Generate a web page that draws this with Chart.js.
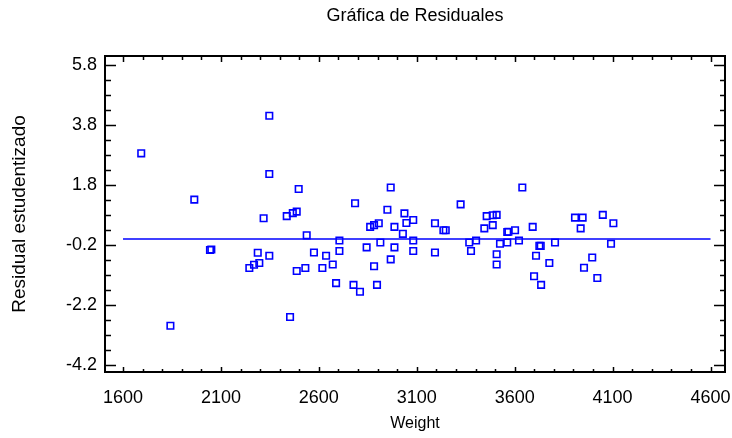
<!DOCTYPE html>
<html>
<head>
<meta charset="utf-8">
<script src="https://cdn.jsdelivr.net/npm/chart.js@4.4.0/dist/chart.umd.min.js"></script>
<style>
  html, body { margin: 0; padding: 0; background: #fff; }
</style>
</head>
<body>
<canvas id="residual-chart" width="732" height="438"></canvas>
<script>
// Weight (x) and studentized residual (y)
const weight = [
  2347, 1693, 2347, 2497, 1964, 2318, 2436, 2467, 2487, 2538,
  2044, 2051, 2288, 2347, 2245, 2269, 2296, 2487, 2531, 2453,
  1842, 2967, 2785, 2950, 3037, 3324, 3457, 3488, 3508, 3082,
  3047, 2862, 2882, 2906, 2986, 3029, 3193, 3236, 3248, 3488,
  3445, 3562, 2705, 2914, 3082, 3368, 3403, 3525, 3562, 2575,
  2705, 2637, 2844, 2986, 3082, 3193, 3377, 3508, 2618, 2671,
  2882, 2967, 3508, 2688, 2777, 2810, 2897, 3639, 3908, 3947,
  4050, 4104, 3937, 3692, 3568, 3602, 3622, 3726, 3733, 3806,
  4092, 3709, 3777, 3996, 3954, 3699, 3735, 4022
]
const residual = [
  4.10, 2.85, 2.16, 1.66, 1.31, 0.69, 0.76, 0.86, 0.91, 0.12,
  -0.37, -0.35, -0.46, -0.56, -0.97, -0.86, -0.80, -1.07, -0.97, -2.60,
  -2.89, 1.71, 1.19, 0.97, 0.85, 1.15, 0.76, 0.79, 0.80, 0.63,
  0.53, 0.40, 0.46, 0.52, 0.40, 0.17, 0.52, 0.29, 0.29, 0.46,
  0.35, 0.23, -0.05, -0.12, -0.05, -0.12, -0.05, -0.16, -0.12, -0.45,
  -0.40, -0.56, -0.28, -0.28, -0.40, -0.45, -0.40, -0.51, -0.97, -0.85,
  -0.91, -0.68, -0.85, -1.47, -1.53, -1.76, -1.53, 1.71, 0.71, 0.71,
  0.80, 0.52, 0.35, 0.40, 0.24, 0.29, -0.05, -0.23, -0.23, -0.12,
  -0.16, -0.56, -0.80, -0.62, -0.96, -1.24, -1.53, -1.30
]

// zero reference line
const zeroLineX = [1600, 4600]
const zeroLineY = [0, 0]

// tick labels
const xTickValues = [1600, 2100, 2600, 3100, 3600, 4100, 4600]
const yTickValues = [-4.2, -2.2, -0.2, 1.8, 3.8, 5.8]
const xMinorStep = 100
const yMinorStep = 0.5

const blue = '#0000ff'
const fontFamily = '"Liberation Sans", Arial, sans-serif'

// frame + inward tick marks on all four sides
const frameTicks = {
  id: 'frameTicks',
  afterDatasetsDraw(chart) {
    const { ctx, chartArea: a, scales: { x, y } } = chart
    ctx.save()
    ctx.strokeStyle = '#000'
    ctx.lineWidth = 1.5
    ctx.beginPath()
    const xFirst = xTickValues[0], xLast = xTickValues[xTickValues.length - 1]
    for (let i = 0; xFirst + i * xMinorStep <= xLast + 0.001; i++) {
      const v = xFirst + i * xMinorStep
      const px = Math.round(x.getPixelForValue(v)) + 0.5
      const major = xTickValues.includes(v)
      ctx.moveTo(px, a.bottom); ctx.lineTo(px, a.bottom - (major ? 5 : 3))
      ctx.moveTo(px, a.top); ctx.lineTo(px, a.top + (major ? 6 : 4))
    }
    const yFirst = yTickValues[0], yLast = yTickValues[yTickValues.length - 1]
    for (let i = 0; yFirst + i * yMinorStep <= yLast + 0.001; i++) {
      const v = yFirst + i * yMinorStep
      const py = Math.round(y.getPixelForValue(v)) + 0.5
      const major = i % 4 === 0
      ctx.moveTo(a.left, py); ctx.lineTo(a.left + (major ? 11 : 6), py)
      ctx.moveTo(a.right, py); ctx.lineTo(a.right - (major ? 11 : 5), py)
    }
    ctx.stroke()
    ctx.lineWidth = 2
    ctx.strokeRect(a.left, a.top, a.right - a.left, a.bottom - a.top)
    ctx.restore()
  }
}

const residualCanvas = document.getElementById('residual-chart')
const residualChart = new Chart(residualCanvas, {
  type: 'scatter',
  data: {
    datasets: [{
      label: 'Residuales',
      data: weight.map((w, i) => ({ x: w, y: residual[i] })),
      pointStyle: 'rect',
      pointRadius: 4.6,
      pointHoverRadius: 4.6,
      borderColor: blue,
      backgroundColor: 'rgba(0,0,0,0)',
      borderWidth: 1.6
    }, {
      label: 'Cero',
      data: zeroLineX.map((w, i) => ({ x: w, y: zeroLineY[i] })),
      showLine: true,
      pointRadius: 0,
      borderColor: blue,
      borderWidth: 1.5
    }]
  },
  options: {
    responsive: false,
    animation: false,
    devicePixelRatio: 1,
    layout: { padding: { left: 0, top: 0, right: 7, bottom: 0 } },
    scales: {
      x: {
        type: 'linear',
        position: 'bottom',
        min: 1508,
        max: 4674,
        afterBuildTicks: s => { s.ticks = xTickValues.map(v => ({ value: v })) },
        afterFit: s => { s.height = 66; s.paddingLeft = 0; s.paddingRight = 0 },
        grid: { display: false, drawTicks: false },
        border: { display: false },
        ticks: {
          padding: 15,
          color: '#000',
          maxRotation: 0,
          font: { family: fontFamily, size: 18 },
          callback: v => String(v)
        },
        title: {
          display: true,
          text: 'Weight',
          color: '#000',
          font: { family: fontFamily, size: 16 },
          padding: { top: 0, bottom: 5 }
        }
      },
      top: {
        type: 'linear',
        position: 'top',
        axis: 'x',
        display: true,
        min: 1508,
        max: 4674,
        afterFit: s => { s.height = 56; s.paddingLeft = 0; s.paddingRight = 0 },
        grid: { display: false, drawTicks: false },
        border: { display: false },
        ticks: { display: false },
        title: {
          display: true,
          text: 'Gráfica de Residuales',
          color: '#000',
          font: { family: fontFamily, size: 18 },
          padding: { top: 5, bottom: 0 }
        }
      },
      y: {
        type: 'linear',
        position: 'left',
        min: -4.43,
        max: 6.09,
        afterBuildTicks: s => { s.ticks = yTickValues.map(v => ({ value: v })) },
        afterFit: s => { s.width = 105; s.paddingTop = 0; s.paddingBottom = 0 },
        grid: { display: false, drawTicks: false },
        border: { display: false },
        ticks: {
          padding: 8,
          color: '#000',
          font: { family: fontFamily, size: 18 },
          callback: v => v.toFixed(1)
        },
        title: {
          display: true,
          text: 'Residual estudentizado',
          color: '#000',
          font: { family: fontFamily, size: 19 },
          padding: { top: 8, bottom: 0 }
        }
      }
    },
    plugins: {
      legend: { display: false },
      title: { display: false },
      tooltip: { enabled: false }
    }
  },
  plugins: [frameTicks]
})
</script>
</body>
</html>
